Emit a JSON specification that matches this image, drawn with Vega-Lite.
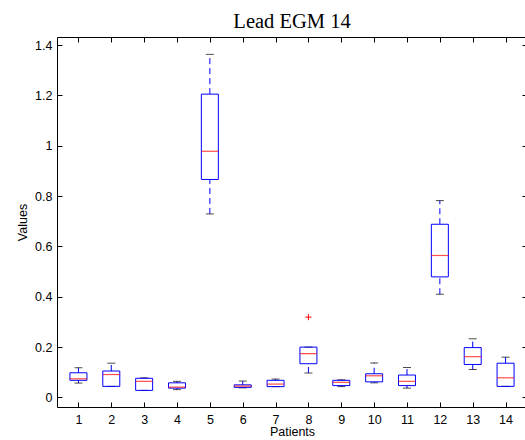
{
  "$schema": "https://vega.github.io/schema/vega-lite/v6.json",
  "width": 470,
  "height": 370,
  "autosize": {"type": "none"},
  "padding": {"left": 57, "top": 37, "right": 0, "bottom": 33},
  "background": "white",
  "config": {
    "view": {"stroke": null},
    "font": "Liberation Sans",
    "axis": {
      "grid": false,
      "domainColor": "black",
      "tickColor": "black",
      "labelColor": "black",
      "titleColor": "black",
      "labelFont": "Liberation Sans",
      "titleFont": "Liberation Sans",
      "labelFontSize": 12.5,
      "titleFontSize": 12.5,
      "titleFontWeight": "normal",
      "tickSize": -5,
      "domainWidth": 1,
      "tickWidth": 1
    }
  },
  "title": {
    "text": "Lead EGM 14",
    "font": "Liberation Serif",
    "fontSize": 20.5,
    "fontWeight": "normal",
    "color": "black",
    "anchor": "middle",
    "offset": 4
  },
  "datasets": {
    "boxes": [
      {"patient": 1, "lo": 0.057, "q1": 0.068, "median": 0.074, "q3": 0.098, "hi": 0.118},
      {"patient": 2, "lo": 0.044, "q1": 0.044, "median": 0.091, "q3": 0.105, "hi": 0.136},
      {"patient": 3, "lo": 0.028, "q1": 0.028, "median": 0.064, "q3": 0.076, "hi": 0.078},
      {"patient": 4, "lo": 0.031, "q1": 0.037, "median": 0.041, "q3": 0.058, "hi": 0.064},
      {"patient": 5, "lo": 0.729, "q1": 0.866, "median": 0.978, "q3": 1.205, "hi": 1.363},
      {"patient": 6, "lo": 0.038, "q1": 0.040, "median": 0.045, "q3": 0.050, "hi": 0.065},
      {"patient": 7, "lo": 0.043, "q1": 0.043, "median": 0.053, "q3": 0.068, "hi": 0.073},
      {"patient": 8, "lo": 0.097, "q1": 0.134, "median": 0.174, "q3": 0.200, "hi": 0.200},
      {"patient": 9, "lo": 0.043, "q1": 0.047, "median": 0.060, "q3": 0.068, "hi": 0.070},
      {"patient": 10, "lo": 0.058, "q1": 0.062, "median": 0.086, "q3": 0.094, "hi": 0.137},
      {"patient": 11, "lo": 0.037, "q1": 0.047, "median": 0.064, "q3": 0.089, "hi": 0.119},
      {"patient": 12, "lo": 0.410, "q1": 0.479, "median": 0.564, "q3": 0.688, "hi": 0.782},
      {"patient": 13, "lo": 0.111, "q1": 0.131, "median": 0.162, "q3": 0.198, "hi": 0.233},
      {"patient": 14, "lo": 0.044, "q1": 0.044, "median": 0.078, "q3": 0.136, "hi": 0.160}
    ],
    "outliers": [
      {"patient": 8, "value": 0.319}
    ]
  },
  "data": {"name": "boxes"},
  "resolve": {"axis": {"x": "independent", "y": "independent"}},
  "layer": [
    {
      "mark": {"type": "rule", "color": "#0000ff", "strokeWidth": 1, "strokeDash": [6, 4]},
      "encoding": {
        "x": {
          "field": "patient", "type": "quantitative",
          "scale": {"domain": [0.5, 14.5], "nice": false, "zero": false},
          "axis": {"values": [1,2,3,4,5,6,7,8,9,10,11,12,13,14], "title": "Patients", "labelPadding": 11, "titlePadding": 0, "format": "d"}
        },
        "y": {
          "field": "q3", "type": "quantitative",
          "scale": {"domain": [-0.038, 1.432], "nice": false, "zero": false},
          "axis": {"values": [0, 0.2, 0.4, 0.6, 0.8, 1, 1.2, 1.4], "title": "Values", "labelPadding": 10, "titlePadding": 5, "format": ".1~f"}
        },
        "y2": {"field": "hi"}
      }
    },
    {
      "mark": {"type": "rule", "color": "#0000ff", "strokeWidth": 1, "strokeDash": [6, 4]},
      "encoding": {
        "x": {
          "field": "patient", "type": "quantitative",
          "scale": {"domain": [0.5, 14.5], "nice": false, "zero": false},
          "axis": {"orient": "top", "values": [1,2,3,4,5,6,7,8,9,10,11,12,13,14], "labels": false, "title": null}
        },
        "y": {
          "field": "lo", "type": "quantitative",
          "scale": {"domain": [-0.038, 1.432], "nice": false, "zero": false},
          "axis": {"orient": "right", "values": [0, 0.2, 0.4, 0.6, 0.8, 1, 1.2, 1.4], "labels": false, "title": null}
        },
        "y2": {"field": "q1"}
      }
    },
    {
      "mark": {"type": "tick", "orient": "horizontal", "color": "black", "size": 8, "thickness": 1},
      "encoding": {
        "x": {"field": "patient", "type": "quantitative", "scale": {"domain": [0.5, 14.5], "nice": false, "zero": false}, "axis": null},
        "y": {"field": "hi", "type": "quantitative", "scale": {"domain": [-0.038, 1.432], "nice": false, "zero": false}, "axis": null}
      }
    },
    {
      "mark": {"type": "tick", "orient": "horizontal", "color": "black", "size": 8, "thickness": 1},
      "encoding": {
        "x": {"field": "patient", "type": "quantitative", "scale": {"domain": [0.5, 14.5], "nice": false, "zero": false}, "axis": null},
        "y": {"field": "lo", "type": "quantitative", "scale": {"domain": [-0.038, 1.432], "nice": false, "zero": false}, "axis": null}
      }
    },
    {
      "mark": {"type": "bar", "orient": "vertical", "size": 17, "fill": "white", "fillOpacity": 0, "stroke": "#0000ff", "strokeWidth": 1},
      "encoding": {
        "x": {"field": "patient", "type": "quantitative", "scale": {"domain": [0.5, 14.5], "nice": false, "zero": false}, "axis": null},
        "y": {"field": "q1", "type": "quantitative", "scale": {"domain": [-0.038, 1.432], "nice": false, "zero": false}, "axis": null},
        "y2": {"field": "q3"}
      }
    },
    {
      "mark": {"type": "tick", "orient": "horizontal", "color": "#ff0000", "size": 17, "thickness": 1.2},
      "encoding": {
        "x": {"field": "patient", "type": "quantitative", "scale": {"domain": [0.5, 14.5], "nice": false, "zero": false}, "axis": null},
        "y": {"field": "median", "type": "quantitative", "scale": {"domain": [-0.038, 1.432], "nice": false, "zero": false}, "axis": null}
      }
    },
    {
      "data": {"name": "outliers"},
      "mark": {"type": "point", "shape": "M-1,0L1,0M0,-1L0,1", "filled": false, "stroke": "#ff0000", "strokeWidth": 1, "size": 36, "opacity": 1},
      "encoding": {
        "x": {"field": "patient", "type": "quantitative", "scale": {"domain": [0.5, 14.5], "nice": false, "zero": false}, "axis": null},
        "y": {"field": "value", "type": "quantitative", "scale": {"domain": [-0.038, 1.432], "nice": false, "zero": false}, "axis": null}
      }
    }
  ]
}
